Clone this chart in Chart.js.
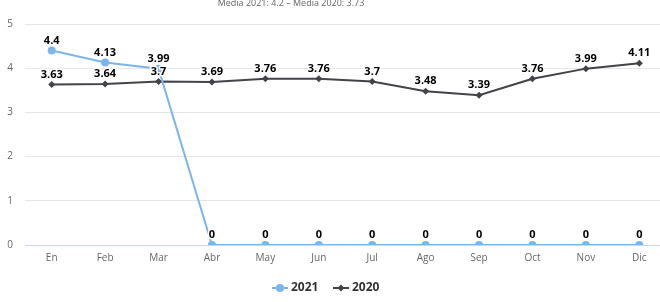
<!DOCTYPE html>
<html>
<head>
<meta charset="utf-8">
<script src="https://cdn.jsdelivr.net/npm/chart.js@4/dist/chart.umd.min.js"></script>
<style>
  html, body { margin: 0; padding: 0; background: #fff; overflow: hidden; }
  #wrap { width: 670px; height: 302px; }
</style>
</head>
<body>
<div id="wrap"><canvas id="chart" width="670" height="302"></canvas></div>
<script>
/* Monthly averages 2021 vs 2020 */

const MONTHS      = ["En", "Feb", "Mar", "Abr", "May", "Jun", "Jul", "Ago", "Sep", "Oct", "Nov", "Dic"];
const VALUES_2021 = [4.4, 4.13, 3.99, 0, 0, 0, 0, 0, 0, 0, 0, 0];
const VALUES_2020 = [3.63, 3.64, 3.7, 3.69, 3.76, 3.76, 3.7, 3.48, 3.39, 3.76, 3.99, 4.11];
const Y_TICKS     = [0, 1, 2, 3, 4, 5];
const TITLE       = "Media 2021: 4.2 \u2013 Media 2020: 3.73";

const FONT = "'Open Sans', 'DejaVu Sans', sans-serif";

/* ── Point value labels ───────────────────────────────── */
const valueLabels = {
  id: "valueLabels",
  afterDatasetsDraw(chart) {
    const ctx = chart.ctx;
    ctx.save();
    ctx.font = "bold 11px " + FONT;
    ctx.textAlign = "center";
    ctx.textBaseline = "middle";
    ctx.lineJoin = "round";
    chart.data.datasets.forEach((ds, i) => {
      const meta = chart.getDatasetMeta(i);
      meta.data.forEach((pt, j) => {
        const txt = String(ds.data[j]);
        const y = pt.y - 10;
        ctx.strokeStyle = "#fff";
        ctx.lineWidth = 3;
        ctx.strokeText(txt, pt.x, y);
        ctx.fillStyle = "#000";
        ctx.fillText(txt, pt.x, y);
      });
    });
    ctx.restore();
  },
};

/* ── Title + legend (drawn by hand) ───────────────────── */
const decorations = {
  id: "decorations",
  afterDraw(chart) {
    const ctx = chart.ctx;
    ctx.save();
    ctx.font = "9px " + FONT;
    ctx.fillStyle = "#666";
    ctx.textAlign = "center";
    ctx.textBaseline = "middle";
    ctx.fillText(TITLE, 291, 3);

    const items = [
      { x: 272, ds: chart.data.datasets[0] },
      { x: 333, ds: chart.data.datasets[1] },
    ];
    const y = 288;
    ctx.font = "bold 12px " + FONT;
    ctx.textAlign = "left";
    items.forEach(it => {
      ctx.strokeStyle = it.ds.borderColor;
      ctx.lineWidth = 2;
      ctx.beginPath();
      ctx.moveTo(it.x, y);
      ctx.lineTo(it.x + 16, y);
      ctx.stroke();
      ctx.fillStyle = it.ds.borderColor;
      ctx.beginPath();
      if (it.ds.pointStyle === "rectRot") {
        const r = 3.5;
        ctx.moveTo(it.x + 8, y - r);
        ctx.lineTo(it.x + 8 + r, y);
        ctx.lineTo(it.x + 8, y + r);
        ctx.lineTo(it.x + 8 - r, y);
        ctx.closePath();
      } else {
        ctx.arc(it.x + 8, y, 4, 0, Math.PI * 2);
      }
      ctx.fill();
      ctx.fillStyle = "#333";
      ctx.fillText(it.ds.label, it.x + 19, y);
    });
    ctx.restore();
  },
};

new Chart(document.getElementById("chart"), {
  type: "line",
  data: {
    labels: MONTHS,
    datasets: [
      {
        label: "2021",
        data: VALUES_2021,
        borderColor: "#7cb5ec",
        backgroundColor: "#7cb5ec",
        borderWidth: 2,
        pointStyle: "circle",
        pointRadius: 4,
        pointBorderWidth: 0,
        tension: 0,
      },
      {
        label: "2020",
        data: VALUES_2020,
        borderColor: "#434348",
        backgroundColor: "#434348",
        borderWidth: 2,
        pointStyle: "rectRot",
        pointRadius: 3.5,
        pointBorderWidth: 0,
        tension: 0,
      },
    ],
  },
  options: {
    responsive: false,
    animation: false,
    layout: { padding: { top: 24, right: 0, bottom: 0, left: 0 } },
    plugins: {
      legend: { display: false },
      title: { display: false },
      tooltip: { enabled: false },
    },
    scales: {
      x: {
        offset: true,
        grid: { display: false, drawTicks: false },
        border: { display: true, color: "#ccd6eb", width: 1 },
        ticks: { color: "#666", font: { family: FONT, size: 10 }, padding: 7, maxRotation: 0 },
        afterFit: s => { s.height = 57; },
      },
      y: {
        min: 0,
        max: 5,
        afterBuildTicks: s => { s.ticks = Y_TICKS.map(v => ({ value: v })); },
        grid: { color: "#e6e6e6", drawTicks: false },
        border: { display: false },
        ticks: { color: "#666", font: { family: FONT, size: 10 }, padding: 12 },
        afterFit: s => { s.width = 25; },
      },
    },
  },
  plugins: [valueLabels, decorations],
});
</script>
</body>
</html>
